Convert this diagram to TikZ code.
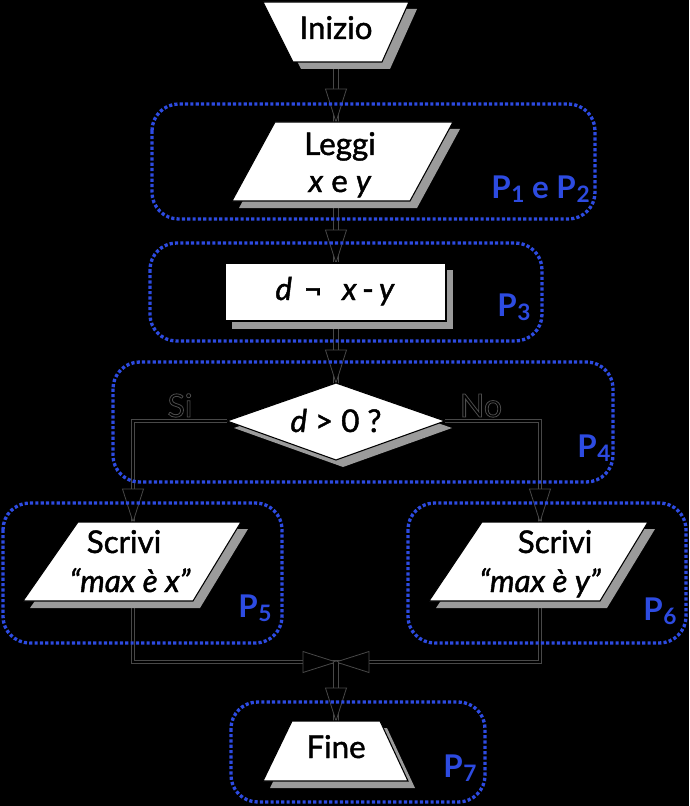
\documentclass[tikz,border=0pt]{standalone}
\usepackage{fontspec}
\setmainfont{Lato}
\newfontfamily\medfont{Lato}[FakeBold=1.4]
\usetikzlibrary{decorations.markings,calc}
\definecolor{pblue}{RGB}{45,75,225}
\definecolor{lc}{RGB}{72,72,72}
\definecolor{shad}{RGB}{155,155,155}
\newcommand\Psub[1]{\kern0.5pt\raisebox{-3.5pt}{\fontsize{17}{17}\selectfont #1}}
\tikzset{
  conn/.style={draw=lc, line width=0.6pt, double=black, double distance=#1,
    postaction={decorate, decoration={markings,
      mark=at position 1 with {\filldraw[fill=black, draw=lc, line width=0.6pt, double=none]
        (0,0) -- (-33,10.5) -- (-33,-10.5) -- cycle;}}}},
  conn/.default=3pt,
  shp/.style={fill=white, draw=black, line width=0.8pt},
  shd/.style={fill=shad},
  txt/.style={font=\medfont\fontsize{23.5}{26}\selectfont, anchor=base, inner sep=0pt, text=black},
  sino/.style={font=\fontsize{24}{26}\selectfont, anchor=base, inner sep=0pt, text=black},
  lab/.style={font=\fontsize{23.5}{26}\selectfont\bfseries, anchor=base west, inner sep=0pt, text=pblue},
  grp/.style={draw=pblue, line width=2.5pt, dash pattern=on 2.4pt off 1.6pt, rounded corners=20pt},
}
\begin{document}
\begin{tikzpicture}[x=0.75pt, y=-0.75pt]
\useasboundingbox (0,0) rectangle (689,806);
\fill[black] (0,0) rectangle (689,806);

% connection points
\coordinate (iniB) at (336,62);
\coordinate (legT) at (336,122);
\coordinate (legB) at (336,201);
\coordinate (procT) at (336,263);
\coordinate (procB) at (336,321);
\coordinate (diaT) at (336,383);
\coordinate (diaL) at (227,421);
\coordinate (diaR) at (445,421);
\coordinate (sxT) at (133,522);
\coordinate (sxB) at (133,601);
\coordinate (syT) at (540,522);
\coordinate (syB) at (540,601);
\coordinate (merge) at (336,662);
\coordinate (fineT) at (336,721);

% connectors
\draw[conn] (iniB) -- (legT);
\draw[conn] (legB) -- (procT);
\draw[conn] (procB) -- (diaT);
\draw[conn=1.6pt] (diaL) -| (sxT);
\draw[conn=1.6pt] (diaR) -| (syT);
\draw[conn=1.6pt] (sxB) |- (merge);
\draw[conn=1.6pt] (syB) |- (merge);
\draw[conn] (merge) -- (fineT);

% Inizio
\fill[shd] (271,9) -- (417,9) -- (390,69) -- (301,69) -- cycle;
\draw[shp] (263,2) -- (409,2) -- (382,62) -- (293,62) -- cycle;
\node[txt] (inizio) at (336,39) {Inizio};

% Leggi
\fill[shd] (282,129) -- (460,129) -- (417,208) -- (239,208) -- cycle;
\draw[shp] (275,122) -- (453,122) -- (410,201) -- (232,201) -- cycle;
\node[txt] (leggi) at (340,155) {Leggi};
\node[txt] (xey) at (340,192) {\textit{x} e \textit{y}};

% process
\fill[shd] (232,270) rectangle (453,329);
\draw[shp] (225,263) rectangle (446,321);
\node[txt] (assign) at (335,300) {\textit{d}\hspace{9pt}¬\hspace{15pt}\textit{x}\hspace{4pt}-\hspace{4pt}\textit{y}};

% decision
\fill[shd] (234,428) -- (343,390) -- (452,428) -- (343,467) -- cycle;
\draw[shp] (227,421) -- (336,383) -- (445,421) -- (336,460) -- cycle;
\node[txt] (cond) at (336,432) {\textit{d} > 0 ?};

% Si / No
\node[sino] (si) at (180,417) {\special{pdf:literal 1 Tr 0.6 w 0.3 0.3 0.3 RG}Si\special{pdf:literal 0 Tr}};
\node[sino] (no) at (481,417) {\special{pdf:literal 1 Tr 0.6 w 0.3 0.3 0.3 RG}No\special{pdf:literal 0 Tr}};

% Scrivi x
\fill[shd] (85,529) -- (248,529) -- (200,608) -- (30,608) -- cycle;
\draw[shp] (78,522) -- (241,522) -- (193,601) -- (23,601) -- cycle;
\node[txt] (sx1) at (124,553) {Scrivi};
\node[txt] (sx2) at (130,592) {\textit{“max è x”}};

% Scrivi y
\fill[shd] (489,529) -- (655,529) -- (607,608) -- (436,608) -- cycle;
\draw[shp] (482,522) -- (648,522) -- (600,601) -- (429,601) -- cycle;
\node[txt] (sy1) at (555,553) {Scrivi};
\node[txt] (sy2) at (540,592) {\textit{“max è y”}};

% Fine
\fill[shd] (299,728) -- (387,728) -- (415,788) -- (270,788) -- cycle;
\draw[shp] (292,721) -- (380,721) -- (408,781) -- (263,781) -- cycle;
\node[txt] (fine) at (336,758) {Fine};

% groups
\draw[grp] (152,104) rectangle (595,219);
\draw[grp] (150,243) rectangle (542,341);
\draw[grp] (113,362) rectangle (613,482);
\draw[grp] (3,503) rectangle (282,643);
\draw[grp] (408,503) rectangle (686,643);
\draw[grp] (231,702) rectangle (485,802);

% labels
\node[lab] (p12) at (491,198) {P\Psub{1} e P\Psub{2}};
\node[lab] (p3) at (497,316) {P\Psub{3}};
\node[lab] (p4) at (577,457) {P\Psub{4}};
\node[lab] (p5) at (238,617) {P\Psub{5}};
\node[lab] (p6) at (643,620) {P\Psub{6}};
\node[lab] (p7) at (443,777) {P\Psub{7}};
\end{tikzpicture}
\end{document}
